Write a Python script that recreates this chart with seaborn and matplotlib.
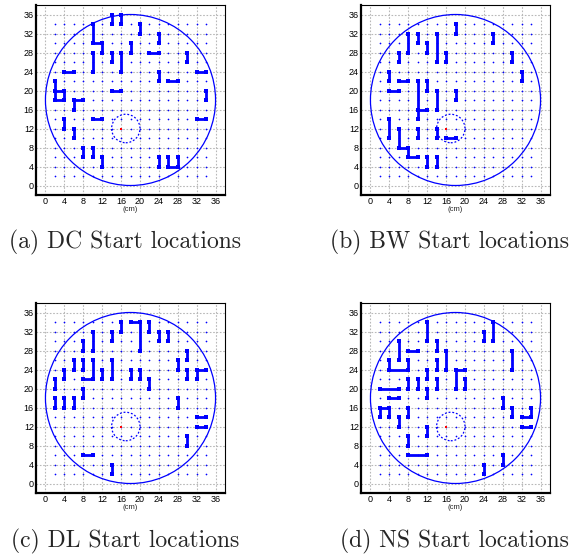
import numpy as np
import pandas as pd
import matplotlib
matplotlib.use("Agg")
import matplotlib.pyplot as plt
from matplotlib.patches import Circle
import seaborn as sns

sns.set_theme(style="white")
plt.rcParams["font.family"] = ["Liberation Sans", "DejaVu Sans"]

# Start-location trajectories (cm), one list of paths per method
dc_paths = [
    [(14, 34), (14, 36)], [(16, 34), (16, 36)], [(20, 32), (20, 34)],
    [(10, 34), (10, 30), (12, 30), (12, 28)], [(24, 30), (24, 32)],
    [(18, 28), (18, 30)], [(22, 28), (24, 28)], [(30, 26), (30, 28)],
    [(10, 24), (10, 28)], [(14, 26), (14, 28)], [(16, 24), (16, 28)],
    [(4, 24), (6, 24)], [(24, 22), (24, 24)], [(26, 22), (28, 22)],
    [(32, 24), (34, 24)], [(2, 22), (2, 18), (4, 18), (4, 20), (2, 20)],
    [(14, 20), (16, 20)], [(34, 18), (34, 20)], [(6, 16), (6, 18), (8, 18)],
    [(4, 12), (4, 14)], [(10, 14), (12, 14)], [(32, 14), (34, 14)],
    [(6, 10), (6, 12)], [(8, 6), (8, 8)], [(10, 6), (10, 8)],
    [(12, 4), (12, 6)], [(24, 4), (24, 6)], [(26, 6), (26, 4), (28, 4), (28, 6)],
]
bw_paths = [
    [(18, 32), (18, 34)], [(8, 28), (8, 32)], [(10, 30), (10, 32)],
    [(14, 26), (14, 32)], [(12, 28), (12, 30)], [(26, 30), (26, 32)],
    [(6, 26), (6, 28)], [(16, 26), (16, 28)], [(30, 26), (30, 28)],
    [(4, 22), (4, 24)], [(6, 22), (8, 22)], [(32, 22), (32, 24)],
    [(10, 22), (10, 14)], [(10, 16), (12, 16)], [(12, 20), (12, 22)],
    [(4, 20), (6, 20)], [(14, 16), (14, 20)], [(18, 18), (18, 20)],
    [(4, 10), (4, 14)], [(6, 12), (6, 8), (8, 8), (8, 6), (10, 6)],
    [(10, 10), (10, 12)], [(14, 10), (14, 12)], [(16, 10), (18, 10)],
    [(12, 4), (12, 6)], [(14, 4), (14, 6)],
]
dl_paths = [
    [(16, 32), (16, 34)], [(18, 34), (20, 34), (20, 28)], [(22, 32), (22, 34)],
    [(24, 30), (24, 32)], [(26, 30), (26, 32)], [(14, 30), (14, 32)],
    [(10, 28), (10, 32)], [(8, 28), (8, 30)], [(6, 24), (6, 26)],
    [(8, 24), (8, 26)], [(8, 22), (10, 22), (10, 26)], [(12, 22), (12, 24)],
    [(14, 22), (14, 26)], [(18, 22), (18, 24)], [(20, 22), (20, 24)],
    [(22, 20), (22, 22)], [(4, 22), (4, 24)], [(2, 20), (2, 22)],
    [(8, 18), (8, 20)], [(28, 24), (28, 26)], [(30, 26), (30, 28)],
    [(30, 22), (30, 24)], [(32, 22), (32, 24), (34, 24)], [(2, 16), (2, 18)],
    [(4, 16), (4, 18)], [(6, 16), (6, 18)], [(28, 16), (28, 18)],
    [(32, 14), (34, 14)], [(32, 12), (34, 12)], [(30, 8), (30, 10)],
    [(8, 6), (10, 6)], [(14, 2), (14, 4)],
]
ns_paths = [
    [(12, 30), (12, 34)], [(24, 30), (24, 32)], [(26, 30), (26, 34)],
    [(14, 28), (14, 30)], [(6, 26), (6, 30)], [(8, 28), (10, 28)],
    [(16, 24), (16, 28)], [(30, 24), (30, 28)], [(4, 26), (4, 24), (8, 24), (8, 26)],
    [(14, 24), (14, 26)], [(12, 22), (12, 24)], [(20, 24), (18, 24), (18, 20)],
    [(20, 20), (20, 22)], [(8, 20), (8, 22)], [(10, 20), (10, 22)],
    [(14, 20), (14, 22)], [(12, 18), (12, 20)], [(2, 20), (6, 20)],
    [(4, 18), (6, 18)], [(2, 14), (2, 16), (4, 16), (4, 14)], [(8, 14), (8, 16)],
    [(6, 12), (6, 14)], [(28, 16), (28, 18)], [(30, 14), (30, 16)],
    [(32, 14), (34, 14), (34, 16)], [(32, 12), (34, 12)], [(12, 10), (12, 12)],
    [(8, 8), (8, 10)], [(8, 6), (12, 6)], [(28, 4), (28, 6)], [(24, 2), (24, 4)],
]

captions = ["(a) DC Start locations", "(b) BW Start locations",
            "(c) DL Start locations", "(d) NS Start locations"]
all_paths = [dc_paths, bw_paths, dl_paths, ns_paths]

tick_values = list(range(0, 37, 4))
lattice_values = list(range(2, 35, 2))
arena_center = (18, 18)
arena_radius = 18
target_center = (17, 12)
target_radius = 3
goal_point = (16, 12)

fig = plt.figure(figsize=(5.76, 5.56), dpi=100)
W, H = 576, 556
panel_boxes = [(36, 5), (361, 5), (36, 303), (361, 303)]
caption_pos = [(125, 242), (450, 242), (125, 541), (454, 541)]
pw, ph = 189, 190

lat = pd.DataFrame([(x, y) for x in lattice_values for y in lattice_values],
                   columns=["x", "y"])

for i in range(4):
    left, top = panel_boxes[i]
    ax = fig.add_axes([left / W, 1 - (top + ph) / H, pw / W, ph / H])
    ax.set_xlim(-2, 38)
    ax.set_ylim(-2, 38)
    ax.set_xticks(tick_values)
    ax.set_yticks(tick_values)
    ax.grid(True, color="#b8b8b8", linestyle=(0, (1.5, 1.5)), linewidth=0.8)
    ax.set_axisbelow(True)

    sns.scatterplot(data=lat, x="x", y="y", ax=ax, color="blue", s=1.5,
                    linewidth=0, legend=False, zorder=2)

    ax.add_patch(Circle(arena_center, arena_radius, fill=False, color="blue",
                        lw=0.9, zorder=3))
    ax.add_patch(Circle(target_center, target_radius, fill=False, color="blue",
                        lw=0.9, linestyle=(0, (1.5, 1.5)), zorder=3))

    rows = []
    for k, path in enumerate(all_paths[i]):
        for (x, y) in path:
            rows.append((k, x, y))
    df = pd.DataFrame(rows, columns=["path", "x", "y"])
    sns.lineplot(data=df, x="x", y="y", units="path", estimator=None, sort=False,
                 color="blue", lw=2.0, marker="s", markersize=2.5,
                 markeredgewidth=0, ax=ax, zorder=4)

    gp = pd.DataFrame({"x": [goal_point[0]], "y": [goal_point[1]]})
    sns.scatterplot(data=gp, x="x", y="y", ax=ax, color="red", s=4, marker="s",
                    linewidth=0, zorder=5)

    ax.set_xlabel("(cm)", fontsize=5.5, labelpad=0)
    ax.set_ylabel("")
    ax.tick_params(axis="both", labelsize=6.5, length=2, width=0.6, pad=1.5,
                   direction="in", colors="black")
    for side in ["left", "bottom"]:
        ax.spines[side].set_linewidth(1.6)
        ax.spines[side].set_color("black")
    for side in ["top", "right"]:
        ax.spines[side].set_linewidth(0.8)
        ax.spines[side].set_color("black")

    cx, cy = caption_pos[i]
    fig.text(cx / W, 1 - cy / H, captions[i], ha="center", va="center",
             fontsize=17, family="cmr10")

fig.savefig("out.png", dpi=100)
